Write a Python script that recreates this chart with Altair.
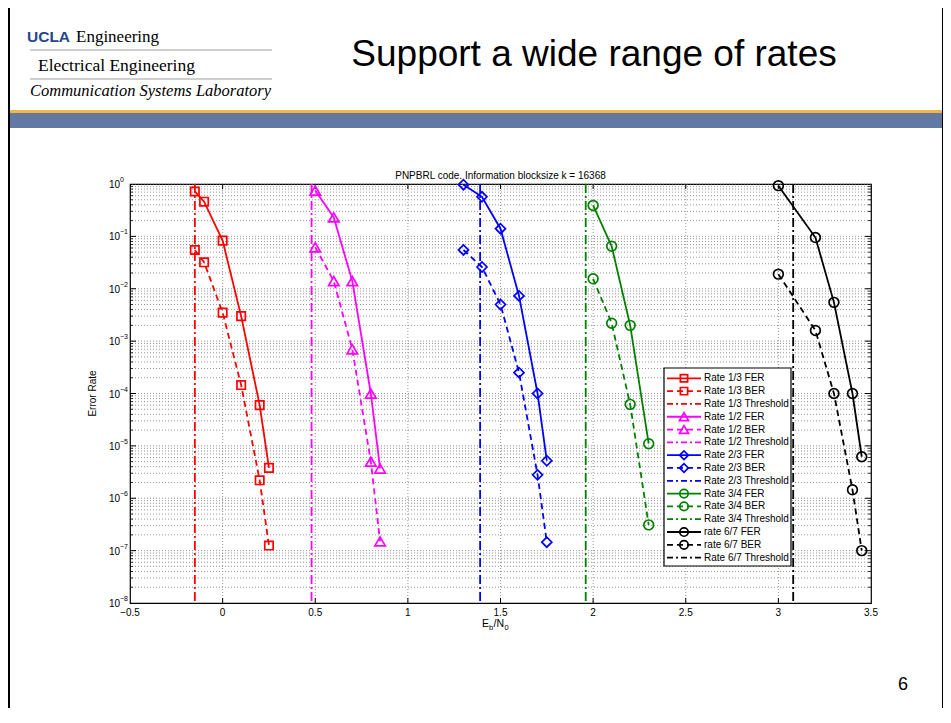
import altair as alt
import pandas as pd

# ---------------- data ----------------
x13 = [-0.15, -0.1, 0.0, 0.1, 0.2, 0.25]
fer13 = [0.72, 0.46, 0.083, 0.003, 6.0e-5, 3.8e-6]
ber13 = [0.055, 0.032, 0.0035, 1.45e-4, 2.2e-6, 1.25e-7]

x12 = [0.5, 0.6, 0.7, 0.8, 0.85]
fer12 = [0.75, 0.23, 0.014, 1.0e-4, 3.7e-6]
ber12 = [0.062, 0.014, 7.0e-4, 5.0e-6, 1.5e-7]

x23 = [1.3, 1.4, 1.5, 1.6, 1.7, 1.75]
fer23 = [0.97, 0.57, 0.14, 0.0073, 1.0e-4, 5.2e-6]
ber23 = [0.055, 0.026, 0.005, 2.5e-4, 2.8e-6, 1.45e-7]

x34 = [2.0, 2.1, 2.2, 2.3]
fer34 = [0.39, 0.065, 0.002, 1.1e-5]
ber34 = [0.0155, 0.0022, 6.2e-5, 3.1e-7]

x67 = [3.0, 3.2, 3.3, 3.4, 3.45]
fer67 = [0.93, 0.095, 0.0055, 1.0e-4, 6.2e-6]
ber67 = [0.019, 0.0016, 1.0e-4, 1.45e-6, 1.0e-7]

rates = ["1/3", "1/2", "2/3", "3/4", "6/7"]
thresholds = [-0.15, 0.48, 1.39, 1.96, 3.08]
colors = ["#ff0000", "#ff00ff", "#0000ff", "#008000", "#000000"]
shapes = ["square", "triangle-up", "diamond", "circle", "circle"]
msizes = [70, 110, 100, 95, 95]
legend_labels = [
    "Rate 1/3 FER", "Rate 1/3 BER", "Rate 1/3 Threshold",
    "Rate 1/2 FER", "Rate 1/2 BER", "Rate 1/2 Threshold",
    "Rate 2/3 FER", "Rate 2/3 BER", "Rate 2/3 Threshold",
    "Rate 3/4 FER", "Rate 3/4 BER", "Rate 3/4 Threshold",
    "rate 6/7 FER", "rate 6/7 BER", "Rate 6/7 Threshold",
]
x_ticks = [-0.5, 0, 0.5, 1, 1.5, 2, 2.5, 3, 3.5]
x_tick_labels = ["\u22120.5", "0", "0.5", "1", "1.5", "2", "2.5", "3", "3.5"]
y_exps = [0, -1, -2, -3, -4, -5, -6, -7, -8]

plot_title = "PNPBRL code. Information blocksize k = 16368"
slide_title = "Support a wide range of rates"

# ---------------- build tables ----------------
xs = [x13, x12, x23, x34, x67]
fers = [fer13, fer12, fer23, fer34, fer67]
bers = [ber13, ber12, ber23, ber34, ber67]
rows = []
for i, r in enumerate(rates):
    for x, y in zip(xs[i], fers[i]):
        rows.append(dict(series=f"{r} FER", kind="FER", x=x, y=y, color=colors[i], shape=shapes[i], msize=msizes[i]))
    for x, y in zip(xs[i], bers[i]):
        rows.append(dict(series=f"{r} BER", kind="BER", x=x, y=y, color=colors[i], shape=shapes[i], msize=msizes[i]))
df = pd.DataFrame(rows)
thr_df = pd.DataFrame(dict(x=thresholds, color=colors))

W, H = 741, 419
FONT = "Liberation Sans"
SERIF = "Liberation Serif"

xs_scale = alt.Scale(domain=[-0.5, 3.5], nice=False, zero=False)
ys_scale = alt.Scale(type="log", domain=[1e-8, 1], nice=False)
X = lambda f="x": alt.X(f"{f}:Q", scale=xs_scale, axis=None)
Y = lambda f="y": alt.Y(f"{f}:Q", scale=ys_scale, axis=None)

major_y = [10.0 ** e for e in y_exps]
minor_y = [d * 10.0 ** e for e in range(-8, 0) for d in range(2, 10)]
grid_y = pd.DataFrame(dict(y=major_y[:-1] + minor_y))
grid_x = pd.DataFrame(dict(x=x_ticks[1:-1]))
tick_x = pd.DataFrame(dict(x=x_ticks[1:-1]))
tick_ymaj = pd.DataFrame(dict(y=major_y[1:-1]))
tick_ymin = pd.DataFrame(dict(y=minor_y))
xlab = pd.DataFrame(dict(x=x_ticks, t=x_tick_labels))

gridstyle = dict(color="#8a8a8a", strokeDash=[1, 2], strokeWidth=0.9)

layers = []
# grid
layers.append(alt.Chart(grid_y).mark_rule(**gridstyle).encode(y=Y()))
layers.append(alt.Chart(grid_x).mark_rule(**gridstyle).encode(x=X()))
# ticks (inward)
layers.append(alt.Chart(tick_x).mark_rule(color="black").encode(x=X(), y=alt.value(H), y2=alt.value(H - 5)))
layers.append(alt.Chart(tick_x).mark_rule(color="black").encode(x=X(), y=alt.value(0), y2=alt.value(5)))
layers.append(alt.Chart(tick_ymaj).mark_rule(color="black").encode(y=Y(), x=alt.value(0), x2=alt.value(6)))
layers.append(alt.Chart(tick_ymaj).mark_rule(color="black").encode(y=Y(), x=alt.value(W), x2=alt.value(W - 6)))
layers.append(alt.Chart(tick_ymin).mark_rule(color="black", strokeWidth=0.8).encode(y=Y(), x=alt.value(0), x2=alt.value(3)))
layers.append(alt.Chart(tick_ymin).mark_rule(color="black", strokeWidth=0.8).encode(y=Y(), x=alt.value(W), x2=alt.value(W - 3)))

# thresholds
layers.append(
    alt.Chart(thr_df).mark_rule(strokeDash=[9, 3, 2, 3], strokeWidth=1.8).encode(
        x=X(), color=alt.Color("color:N", scale=None)
    )
)
# lines
layers.append(
    alt.Chart(df[df.kind == "FER"]).mark_line(strokeWidth=1.8).encode(
        x=X(), y=Y(), color=alt.Color("color:N", scale=None), detail="series:N"
    )
)
layers.append(
    alt.Chart(df[df.kind == "BER"]).mark_line(strokeWidth=1.8, strokeDash=[6, 4]).encode(
        x=X(), y=Y(), color=alt.Color("color:N", scale=None), detail="series:N"
    )
)
layers.append(
    alt.Chart(df).mark_point(filled=False, strokeWidth=1.7, opacity=1).encode(
        x=X(), y=Y(), color=alt.Color("color:N", scale=None),
        shape=alt.Shape("shape:N", scale=None), size=alt.Size("msize:Q", scale=None)
    )
)

# x tick labels
layers.append(
    alt.Chart(xlab).mark_text(align="center", baseline="middle", fontSize=10, font=FONT, color="black").encode(
        x=X(), y=alt.value(H + 10), text="t:N"
    )
)
# y tick labels 10^e
ylab = pd.DataFrame(dict(v=major_y, e=[str(e).replace("-", "\u2212") for e in y_exps]))
layers.append(
    alt.Chart(ylab).mark_text(align="right", baseline="middle", fontSize=10, font=FONT, dy=1, color="black").encode(
        y=Y("v"), x=alt.value(-10), text=alt.value("10")
    )
)
layers.append(
    alt.Chart(ylab).mark_text(align="left", baseline="middle", fontSize=7, font=FONT, dy=-4, color="black").encode(
        y=Y("v"), x=alt.value(-10), text="e:N"
    )
)

dummy = pd.DataFrame(dict(a=[0]))


def txt(s, x, y, **kw):
    kw.setdefault("font", FONT)
    kw.setdefault("color", "black")
    return alt.Chart(dummy).mark_text(**kw).encode(x=alt.value(x), y=alt.value(y), text=alt.value(s))


def rect(x, x2, y, y2, **kw):
    return alt.Chart(dummy).mark_rect(**kw).encode(x=alt.value(x), x2=alt.value(x2), y=alt.value(y), y2=alt.value(y2))


def hline(x, x2, y, **kw):
    return alt.Chart(dummy).mark_rule(**kw).encode(x=alt.value(x), x2=alt.value(x2), y=alt.value(y))


# plot title and axis titles
layers.append(txt(plot_title, W / 2, -5, fontSize=10, align="center", baseline="alphabetic"))
layers.append(txt("Error Rate", -37, H / 2, fontSize=10, angle=270, align="center", baseline="middle"))
layers.append(txt("E", 352, 443, fontSize=10.5, align="left", baseline="alphabetic"))
layers.append(txt("b", 359, 446, fontSize=7.5, align="left", baseline="alphabetic"))
layers.append(txt("/N", 363.5, 443, fontSize=10.5, align="left", baseline="alphabetic"))
layers.append(txt("0", 374.5, 446, fontSize=7.5, align="left", baseline="alphabetic"))

# legend
LX0, LX1, LY0, LY1 = 534, 661, 184, 382
layers.append(rect(LX0, LX1, LY0, LY1, fill="white", stroke="black", strokeWidth=1.2))
for k, lab in enumerate(legend_labels):
    i, j = divmod(k, 3)
    yy = 194.3 + k * 12.81
    if j == 0:
        dash = [1, 0]
    elif j == 1:
        dash = [6, 4]
    else:
        dash = [6, 3, 2, 3]
    layers.append(hline(537, 571, yy, color=colors[i], strokeWidth=1.8, strokeDash=dash))
    if j < 2:
        layers.append(
            alt.Chart(dummy).mark_point(filled=False, strokeWidth=1.7, shape=shapes[i], size=msizes[i] * 0.75,
                                         color=colors[i], opacity=1).encode(x=alt.value(554), y=alt.value(yy))
        )
    layers.append(txt(lab, 574, yy, fontSize=10, align="left", baseline="middle"))

# slide decorations
layers.append(rect(-122, 813, -74, -71, fill="#f2b73f"))
layers.append(rect(-122, 813, -71, -56, fill="#6379a4"))
layers.append(txt("UCLA", -103, -142, fontSize=15.5, fontWeight="bold", color="#24468e", align="left", baseline="alphabetic"))
layers.append(txt("Engineering", -54, -142, fontSize=17, font=SERIF, align="left", baseline="alphabetic"))
layers.append(hline(-100, 142, -134, color="#a0a0a0", strokeWidth=1.2))
layers.append(txt("Electrical Engineering", -92, -113, fontSize=17.5, font=SERIF, align="left", baseline="alphabetic"))
layers.append(hline(-100, 142, -105, color="#a0a0a0", strokeWidth=1.2))
layers.append(txt("Communication Systems Laboratory", -100, -88, fontSize=16.5, font=SERIF, fontStyle="italic",
                  align="left", baseline="alphabetic"))
layers.append(txt(slide_title, 464, -118, fontSize=37, align="center", baseline="alphabetic"))
layers.append(txt("6", 773, 506, fontSize=18, align="center", baseline="alphabetic"))
# slide frame
layers.append(alt.Chart(dummy).mark_rule(color="black", strokeWidth=2).encode(
    x=alt.value(-121), y=alt.value(-176), y2=alt.value(524)))
layers.append(alt.Chart(dummy).mark_rule(color="black", strokeWidth=2).encode(
    x=alt.value(813), y=alt.value(-176), y2=alt.value(524)))

chart = alt.layer(*layers).properties(
    width=W, height=H,
    autosize=alt.AutoSizeParams(type="none"),
    padding={"left": 122, "top": 176, "right": 72, "bottom": 105},
    background="white",
).configure_view(stroke="black", strokeWidth=1.2)

chart.save("out.html", embed_options={"renderer": "svg", "actions": False})
